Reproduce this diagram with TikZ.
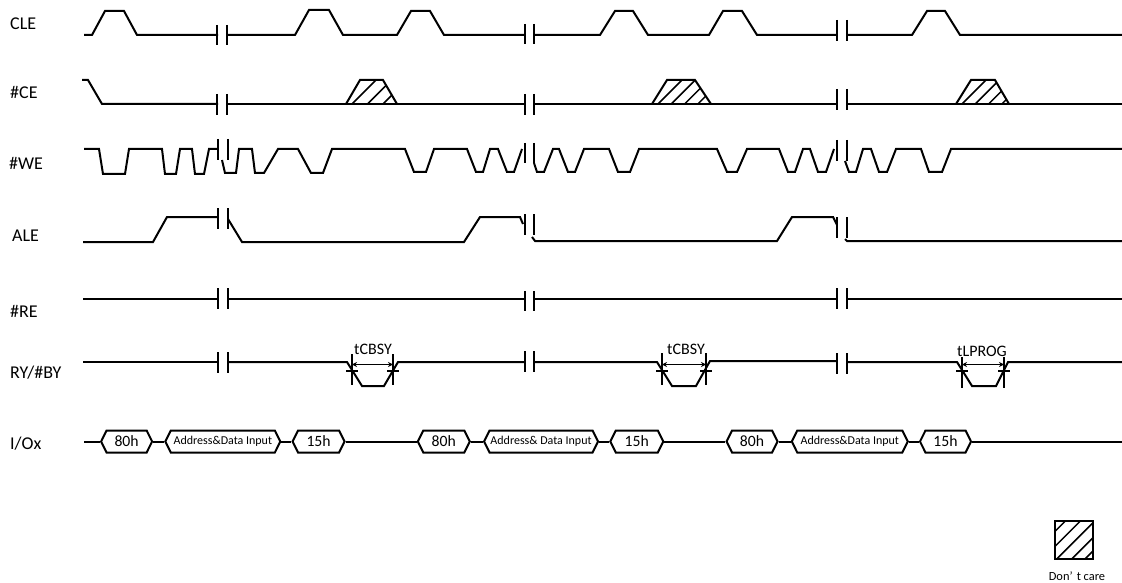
\documentclass[tikz,border=0pt]{standalone}
\usepackage{fontspec}
\setmainfont{Carlito}
\usetikzlibrary{positioning,arrows.meta,shapes.symbols}
\newcommand{\sigsize}{\fontsize{18}{20}\selectfont}
\newcommand{\hexsize}{\fontsize{15.7}{18}\selectfont}
\newcommand{\addrsize}{\fontsize{12}{14}\selectfont}
\newcommand{\addrtxt}[1]{\makebox[90pt][c]{#1}}

\begin{document}
\begin{tikzpicture}[
  x=1pt,y=-1pt,
  wave/.style={line width=2pt,line join=miter},
  hatch/.style={line width=1.5pt},
  lab/.style={anchor=base west,inner sep=0pt,font=\sigsize},
  tlab/.style={anchor=base,inner sep=0pt,font=\fontsize{16}{18}\selectfont},
  ar/.style={{Stealth[length=5pt,width=5pt]}-{Stealth[length=5pt,width=5pt]},line width=1.5pt},
  hex/.style={draw,line width=2pt,shape=signal,signal to=east and west,signal pointer angle=127,
    minimum height=22pt,inner sep=0pt,align=center},
  cmd/.style={hex,font=\hexsize,minimum width=52pt},
  adr/.style={hex,font=\addrsize,minimum width=115pt}
]
\useasboundingbox (0,0) rectangle (1122,583);
% signal names
\node[lab] (cle) at (10,30) {CLE};
\node[lab] (ce) at (10,99) {\#CE};
\node[lab] (we) at (9,170) {\#WE};
\node[lab] (ale) at (12,241) {ALE};
\node[lab] (re) at (10,317) {\#RE};
\node[lab] (ry) at (10,378) {RY/\#BY};
\node[lab] (io) at (10,449) {I/Ox};
% CLE
\draw[wave] (84,35) -- (92,35) -- (105,11) -- (124,11) -- (137,35) -- (218,35);
\draw[wave] (228,35) -- (295,35) -- (309,10) -- (329,10) -- (343,35) -- (397,35) -- (411,11) -- (430,11) -- (444,35) -- (525,35);
\draw[wave] (534,35) -- (600,35) -- (615,11) -- (633,11) -- (648,35) -- (709,35) -- (723,11) -- (742,11) -- (757,35) -- (837,35);
\draw[wave] (847,35) -- (912,35) -- (927,11) -- (945,11) -- (960,35) -- (1122,35);
% #CE
\draw[wave] (82,80) -- (88,80) -- (102,104) -- (218,104);
\draw[wave] (228,104) -- (525,104);
\draw[wave] (534,104) -- (837,104);
\draw[wave] (847,104) -- (1122,104);
\foreach \xa/\xb/\xc/\xd/\st in {346/360/383/397/15.5,652/667/695/711/13.3,956/971/995/1009/13.3}{
  \begin{scope}
    \clip (\xa,104) -- (\xb,80) -- (\xc,80) -- (\xd,104) -- cycle;
    \foreach \n in {0,1,2,3}
      \draw[hatch] ({\xa+6+\n*\st},104) -- ++(30,-30);
  \end{scope}
  \draw[wave] (\xa,104) -- (\xb,80) -- (\xc,80) -- (\xd,104);
}
% #WE
\draw[wave] (84,149) -- (99,149) -- (103,174) -- (125,174) -- (129,149) -- (162,149) -- (165,174) -- (176,174) -- (180,149) -- (192,149) -- (195,174) -- (204,174) -- (209,149) -- (218,149);
\draw[wave] (222,160) -- (225,173) -- (236,173) -- (239,149) -- (252,149) -- (255,173) -- (264,173) -- (278,149) -- (298,149) -- (311,173) -- (323,173) -- (332,149) -- (405,149) -- (414,172) -- (426,172) -- (434,149) -- (467,149) -- (476,172) -- (483,172) -- (490,149) -- (498,149) -- (507,172) -- (514,172) -- (522,149);
\draw[wave] (534,163) -- (537,172) -- (544,172) -- (553,149) -- (559,149) -- (568,172) -- (575,172) -- (584,149) -- (609,149) -- (618,172) -- (630,172) -- (639,149) -- (717,149) -- (727,172) -- (737,172) -- (747,149) -- (779,149) -- (788,172) -- (795,172) -- (803,149) -- (810,149) -- (818,172) -- (826,172) -- (834,149);
\draw[wave] (845,161) -- (849,172) -- (856,172) -- (863,149) -- (871,149) -- (879,172) -- (887,172) -- (896,149) -- (921,149) -- (929,172) -- (942,172) -- (951,149) -- (1122,149);
% ALE
\draw[wave] (83,242) -- (153,242) -- (167,217) -- (218,217);
\draw[wave] (228,219) -- (242,242) -- (464,242) -- (480,217) -- (520,217) -- (523,224);
\draw[wave] (532,237) -- (535,241) -- (777,241) -- (792,217) -- (833,217) -- (837,225);
\draw[wave] (845,239) -- (847,241) -- (1122,241);
% #RE
\draw[wave] (83,299) -- (218,299);
\draw[wave] (228,299) -- (525,299);
\draw[wave] (534,299) -- (837,299);
\draw[wave] (847,299) -- (1122,299);
% RY/#BY
\draw[wave] (83,362) -- (218,362);
\draw[wave] (228,362) -- (347,362) -- (362,386) -- (384,386) -- (398,362) -- (525,362);
\draw[wave] (534,362) -- (657,362) -- (672,386) -- (696,386) -- (710,361) -- (837,361);
\draw[wave] (847,362) -- (957,362) -- (972,386) -- (996,386) -- (1008,362) -- (1122,362);
% break marks
\foreach \xa/\xb/\ya/\yb in {
  217/227/25/45,525/534/24/44,837/847/20/41,
  217/227/94/115,525/534/94/115,837/847/89/110,
  218/228/139/160,525/534/143/163,837/847/140/161,
  218/228/208/229,525/534/214/235,837/847/217/238,
  218/228/288/309,525/534/291/311,837/847/288/309,
  218/228/352/373,525/534/351/372,837/847/353/374}
  \draw[wave] (\xa,\ya) -- (\xa,\yb) (\xb,\ya) -- (\xb,\yb);
% busy times
\foreach \i/\xa/\xb/\ya/\yb/\xt/\yt/\txt in {
  a/352/393/354/385/373/354/tCBSY,
  b/662/706/353/385/686/354/tCBSY,
  c/962/1004/357/388/982/356/tLPROG}{
  \draw[wave] (\xa,\ya) -- (\xa,\yb) (\xb,\ya) -- (\xb,\yb);
  \draw[wave] (\xa-6,371) -- (\xa+6,371) (\xb-6,371) -- (\xb+6,371);
  \coordinate (s\i) at (\xa,364.5);
  \coordinate (e\i) at (\xb,364.5);
  \draw[ar] (s\i) -- (e\i);
  \node[tlab] (t\i) at (\xt,\yt) {\txt};
}
% I/Ox
\coordinate (iostart) at (84,441.5);
\coordinate (ioend) at (1122,441.5);
\node[cmd,anchor=west,minimum width=51pt] (h1) at (100,441.5) {80h};
\node[adr,right=11pt of h1] (h2) {\addrtxt{Address\&Data Input}};
\node[cmd,right=10pt of h2] (h3) {15h};
\node[cmd,right=71pt of h3] (h4) {80h};
\node[adr,right=12pt of h4,minimum width=114pt] (h5) {\addrtxt{Address\& Data Input}};
\node[cmd,right=10pt of h5,minimum width=53pt] (h6) {15h};
\node[cmd,right=61pt of h6,minimum width=51pt] (h7) {80h};
\node[adr,right=12pt of h7,minimum width=116pt] (h8) {\addrtxt{Address\&Data Input}};
\node[cmd,right=10pt of h8,minimum width=51pt] (h9) {15h};
\draw[wave] (iostart) -- (h1.west);
\draw[wave] (h1.east) -- (h2.west);
\draw[wave] (h2.east) -- (h3.west);
\draw[wave] (h3.east) -- (h4.west);
\draw[wave] (h4.east) -- (h5.west);
\draw[wave] (h5.east) -- (h6.west);
\draw[wave] (h6.east) -- (h7.west);
\draw[wave] (h7.east) -- (h8.west);
\draw[wave] (h8.east) -- (h9.west);
\draw[wave] (h9.east) -- (ioend);
% legend
\begin{scope}
  \clip (1055,521) rectangle (1093,559);
  \foreach \xh in {1027.3,1042.3,1056.7,1071.7,1085}
    \draw[hatch] (\xh,559) -- ++(45,-45);
\end{scope}
\draw[line width=2pt] (1055,521) rectangle (1093,559);
\node[inner sep=0pt,font=\fontsize{12.4}{14}\selectfont] (dc) at (1077,576) {Don’\,\,t care};
\end{tikzpicture}
\end{document}
